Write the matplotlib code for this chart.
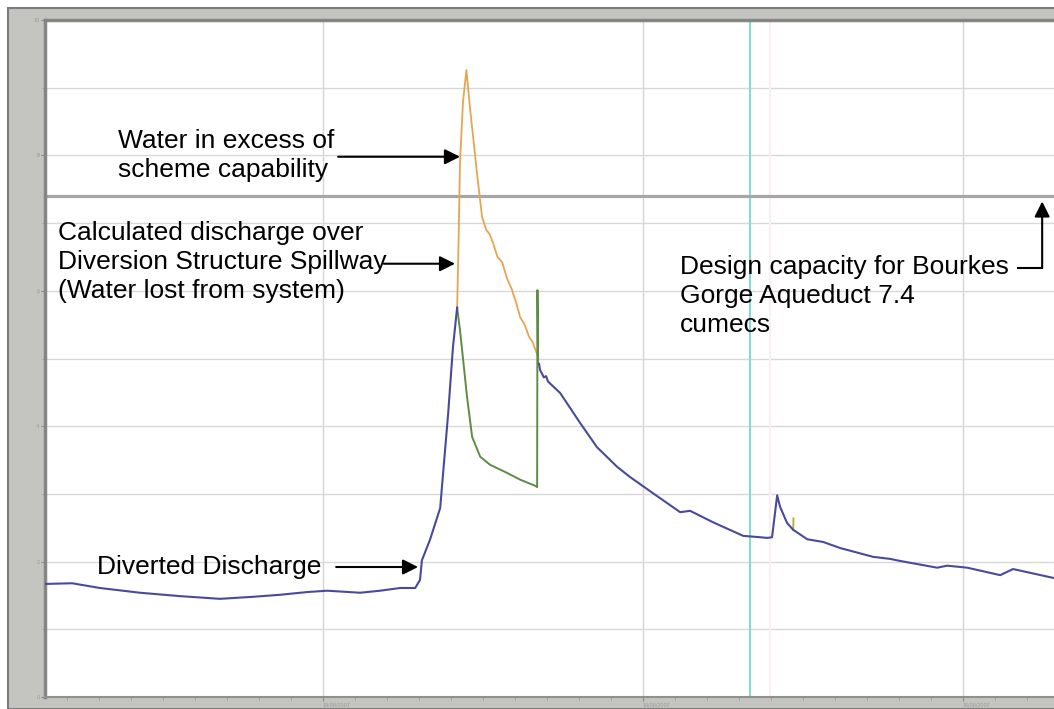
import numpy as np
import matplotlib.pyplot as plt
from matplotlib.patches import Rectangle

# time in days (1 = 18/08/2007 00:00), discharge in cumecs
t_div1 = [0.131, 0.216, 0.303, 0.428, 0.553, 0.678, 0.781, 0.866, 0.950, 1.013,
          1.116, 1.178, 1.241, 1.288, 1.303, 1.309, 1.334, 1.366, 1.391, 1.406, 1.419]
q_div1 = [1.67, 1.68, 1.61, 1.54, 1.49, 1.45, 1.48, 1.51, 1.55, 1.57,
          1.54, 1.57, 1.61, 1.61, 1.73, 2.02, 2.32, 2.79, 4.19, 5.17, 5.75]

t_div2 = [1.675, 1.678, 1.684, 1.690, 1.697, 1.703, 1.741, 1.803, 1.856, 1.919,
          1.959, 2.031, 2.116, 2.147, 2.219, 2.313, 2.366, 2.388, 2.403, 2.419,
          2.428, 2.450, 2.469, 2.513, 2.563, 2.616, 2.719, 2.772, 2.803, 2.919,
          2.950, 3.013, 3.116, 3.156, 3.281]
q_div2 = [4.92, 4.83, 4.78, 4.72, 4.74, 4.66, 4.49, 4.05, 3.69, 3.40,
          3.25, 3.01, 2.73, 2.75, 2.58, 2.38, 2.36, 2.35, 2.36, 2.98,
          2.81, 2.57, 2.47, 2.33, 2.29, 2.20, 2.07, 2.04, 2.01, 1.91,
          1.94, 1.91, 1.80, 1.89, 1.76]

t_spill = [1.419, 1.428, 1.450, 1.466, 1.491, 1.522, 1.575, 1.616, 1.663, 1.669, 1.670, 1.672]
q_spill = [5.75, 5.42, 4.43, 3.84, 3.55, 3.43, 3.31, 3.21, 3.12, 3.10, 6.01, 4.92]

t_total = [1.419, 1.423, 1.428, 1.4375, 1.448, 1.459, 1.481, 1.497, 1.510, 1.520,
           1.531, 1.545, 1.560, 1.575, 1.590, 1.605, 1.616, 1.630, 1.643, 1.656, 1.672]
q_total = [5.75, 6.60, 7.90, 8.80, 9.26, 8.71, 7.74, 7.09, 6.90, 6.84,
           6.71, 6.50, 6.42, 6.18, 6.02, 5.80, 5.61, 5.50, 5.33, 5.23, 5.02]

t_blip = [2.469, 2.470]
q_blip = [2.47, 2.64]

design_capacity = 7.4
marker_day = 2.334
date_labels = ["18/08/2007", "19/08/2007", "20/08/2007"]

W, H = 1054, 709
fig = plt.figure(figsize=(W / 100, H / 100), dpi=100)
plt.rcParams['font.family'] = ['Liberation Sans', 'DejaVu Sans']

# grey window frame round the plot
fig.add_artist(Rectangle((8 / W, 0), 1, (H - 8) / H, transform=fig.transFigure,
                         facecolor='#c4c4c0', edgecolor='#7c7c7c', lw=1.5, zorder=0))

ax = fig.add_axes([45 / W, 12 / H, 1 - 45 / W, 677 / H])
ax.set_facecolor('white')
ax.set_xlim(0.13125, 3.284)
ax.set_ylim(0, 10)

ax.set_yticks(range(0, 11, 2))
ax.set_yticks(range(1, 11, 2), minor=True)
ax.set_xticks([1, 2, 3])
ax.set_xticklabels(date_labels, ha='left')
ax.set_xticks(np.arange(0.2, 3.3, 0.1), minor=True)
ax.tick_params(labelsize=4, labelcolor='#9a9a9a', color='#8a8a8a', length=3, pad=1)
ax.tick_params(which='minor', length=2, color='#9a9a9a')

ax.grid(which='both', axis='y', color='#d8d8d8', lw=1)
ax.grid(which='major', axis='x', color='#d2d6d8', lw=1)
ax.set_axisbelow(True)

for side in ['left', 'top']:
    ax.spines[side].set_color('#858585')
    ax.spines[side].set_linewidth(2.5)
ax.spines['bottom'].set_color('#909090')
ax.spines['bottom'].set_linewidth(1.5)
ax.spines['right'].set_visible(False)

ax.axvline(marker_day, color='#84dccc', lw=1.5, zorder=2)
ax.axvline(marker_day + 0.063, color='#fbeff3', lw=1.5, zorder=1)
ax.axhline(design_capacity, color='#a6a6a6', lw=2.3, zorder=2)

ax.plot(t_total, q_total, color='#e6a650', lw=1.3, zorder=3)
ax.plot(t_spill, q_spill, color='#5e8c44', lw=1.4, zorder=4)
ax.plot(t_div1, q_div1, color='#4a4a9c', lw=1.5, zorder=5)
ax.plot(t_div2, q_div2, color='#4a4a9c', lw=1.5, zorder=5)
ax.plot(t_blip, q_blip, color='#b4b440', lw=1.4, zorder=4)

arrow = dict(arrowstyle='-|>,head_length=0.4,head_width=0.2', mutation_scale=23,
             lw=1.5, color='black', shrinkA=0, shrinkB=0)
fs = 19
ls = 1.27

ax.text(0.359, 8.0, "Water in excess of\nscheme capability", fontsize=fs,
        va='center', ha='left', linespacing=ls, zorder=6)
ax.annotate("", xy=(1.428, 7.98), xytext=(1.047, 7.98), arrowprops=arrow, zorder=6)

ax.text(0.172, 6.43, "Calculated discharge over\nDiversion Structure Spillway\n(Water lost from system)",
        fontsize=fs, va='center', ha='left', linespacing=ls, zorder=6)
ax.annotate("", xy=(1.4125, 6.40), xytext=(1.19, 6.40), arrowprops=arrow, zorder=6)

ax.text(2.116, 5.92, "Design capacity for Bourkes\nGorge Aqueduct 7.4\ncumecs",
        fontsize=fs, va='center', ha='left', linespacing=ls, zorder=6)
ax.plot([3.172, 3.247], [6.34, 6.34], color='black', lw=1.5, zorder=6)
ax.annotate("", xy=(3.247, 7.32), xytext=(3.247, 6.34), arrowprops=arrow, zorder=6)

ax.text(0.294, 1.92, "Diverted Discharge", fontsize=fs, va='center', ha='left', zorder=6)
ax.annotate("", xy=(1.297, 1.92), xytext=(1.041, 1.92), arrowprops=arrow, zorder=6)

fig.savefig("out.png", dpi=100)
